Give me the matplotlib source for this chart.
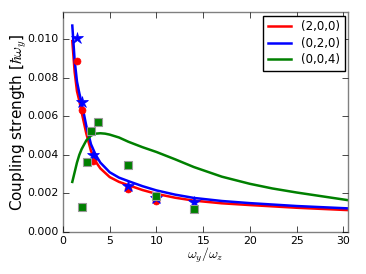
import numpy as np
import matplotlib
matplotlib.use('Agg')
import matplotlib.pyplot as plt

plt.style.use('classic')

# curves
x_red = [1.0, 1.25, 1.5, 1.75, 2.0, 2.5, 3.0, 3.5, 4.0, 5.0, 6.0, 7.0, 8.5, 10.0, 12.0, 14.0, 17.0, 20.0, 25.0, 30.4]
y_red = [0.0099, 0.0083, 0.0073, 0.0068, 0.0062, 0.0051, 0.0042, 0.00365, 0.0033, 0.00285, 0.0026, 0.00243,
         0.00218, 0.00198, 0.00178, 0.00163, 0.00149, 0.0014, 0.00126, 0.00114]
x_blue = [1.0, 1.25, 1.5, 1.75, 2.0, 2.5, 3.0, 3.5, 4.0, 5.0, 6.0, 7.0, 8.5, 10.0, 12.0, 14.0, 17.0, 20.0, 25.0, 30.4]
y_blue = [0.0107, 0.0089, 0.0078, 0.0072, 0.0067, 0.0055, 0.00455, 0.0040, 0.0036, 0.0031, 0.00282, 0.00264,
          0.00238, 0.00216, 0.00194, 0.00177, 0.00161, 0.0015, 0.00135, 0.00123]
x_green = [1.0, 1.25, 1.5, 1.75, 2.0, 2.5, 3.0, 3.5, 4.0, 4.5, 5.0, 6.0, 7.0, 8.5, 10.0, 12.0, 14.0, 17.0, 20.0, 22.4, 25.0, 30.4]
y_green = [0.0026, 0.0031, 0.0036, 0.0040, 0.0043, 0.00475, 0.0050, 0.0051, 0.00512, 0.0051, 0.00505, 0.0049,
           0.00468, 0.0044, 0.00415, 0.00377, 0.00337, 0.00287, 0.0025, 0.00226, 0.00205, 0.00166]

# numerical points
x_circ = [1.52, 2.05, 3.2, 6.95, 10.0]
y_circ = [0.00888, 0.00632, 0.0037, 0.00221, 0.00162]
x_star = [1.46, 2.0, 3.2, 6.95, 10.0, 14.0]
y_star = [0.01005, 0.00675, 0.0040, 0.00238, 0.00175, 0.00157]
x_sq = [1.99, 2.52, 2.98, 3.76, 6.95, 10.0, 14.0]
y_sq = [0.00128, 0.00361, 0.00525, 0.00572, 0.00347, 0.00187, 0.00122]

fig = plt.figure(figsize=(3.66, 2.74), dpi=100, facecolor='white')
ax = fig.add_axes([0.172, 0.153, 0.779, 0.803])

ax.plot(x_red, y_red, 'r-', lw=1.8, label='(2,0,0)')
ax.plot(x_blue, y_blue, 'b-', lw=1.8, label='(0,2,0)')
ax.plot(x_green, y_green, 'g-', lw=1.8, label='(0,0,4)')

ax.plot(x_circ, y_circ, 'ro', ms=5, mec='r')
ax.plot(x_star, y_star, 'b*', ms=9, mec='b')
ax.plot(x_sq, y_sq, 'gs', ms=6, mec='0.6', mew=0.8)

ax.set_xlim(0, 30.5)
ax.set_ylim(0, 0.0114)
ax.set_xticks([0, 5, 10, 15, 20, 25, 30])
ax.set_yticks([0.0, 0.002, 0.004, 0.006, 0.008, 0.010])
ax.set_yticklabels(['0.000', '0.002', '0.004', '0.006', '0.008', '0.010'])
ax.tick_params(labelsize=7.8, direction='in', length=4, pad=3)
for s in ax.spines.values():
    s.set_color('0.5')

ax.set_xlabel(r'$\omega_y/\omega_z$', fontsize=10)
ax.set_ylabel(r'Coupling strength [$\hbar\omega_y$]', fontsize=11)
ax.xaxis.set_label_coords(0.5, -0.06)
ax.yaxis.set_label_coords(-0.12, 0.5)

leg = ax.legend(loc='upper right', fontsize=8.5, handlelength=2, numpoints=1,
                borderaxespad=0.3, labelspacing=0.3, fancybox=False)
leg.get_frame().set_edgecolor('k')

fig.savefig('out.png', dpi=100, facecolor='white')
